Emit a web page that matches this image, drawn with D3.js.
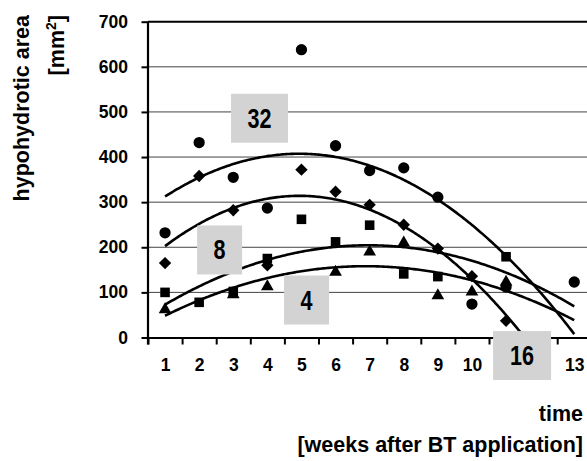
<!DOCTYPE html>
<html>
<head>
<meta charset="utf-8">
<script src="https://cdn.jsdelivr.net/npm/d3@7"></script>
<style>
  body { margin: 0; background: #fff; }
  svg text { font-family: "Liberation Sans", Arial, sans-serif; font-weight: bold; fill: #000; }
  .axis path, .axis line { stroke: #000; }
</style>
</head>
<body>
<svg id="chart" width="587" height="461"></svg>
<script>
// values (null = no point visible)
const weeks = [1, 2, 3, 4, 5, 6, 7, 8, 9, 10, 11, 12, 13]
const circleVals   = [232, 432, 355, 287, 638, 425, 370, 376, 311, 74, 112, null, 123]
const diamondVals  = [165, 358, 282, 160, 372, 323, 294, 250, 197, 136, 37, null, null]
const squareVals   = [100, 78, 102, 175, 262, 212, 249, 141, 135, null, 179, null, null]
const triangleVals = [62, null, 95, 113, null, 145, 190, 210, 93, 101, 123, null, null]
const yTicks = [0, 100, 200, 300, 400, 500, 600, 700]
// week labels 11 and 12 sit under the "16" box in the original, so they are not shown
const shownWeekLabels = [1, 2, 3, 4, 5, 6, 7, 8, 9, 10, 13]
const boxLabels = ["32", "8", "4", "16"]
// where the grey labels sit, in week / area units
const boxAt = [[3.77, 486], [2.60, 194], [5.15, 83], [11.47, -40]]
const boxW = [57, 45, 45, 58]

let svg = d3.select("#chart")
let plotLeft = 148, plotBottom = 337.5, plotTop = 21.7, band = 34.1

let x = d3.scaleLinear().domain([0.5, 13.5]).range([plotLeft, plotLeft + 13 * band])
let y = d3.scaleLinear().domain([0, 700]).range([plotBottom, plotTop])

// least squares 2nd order polynomial, like the spreadsheet trendline
function quadFit(xs, ys) {
    let S = [0, 0, 0, 0, 0], T = [0, 0, 0]
    xs.forEach((xv, i) => {
        for (let k = 0; k < 5; k++) S[k] += Math.pow(xv, k)
        for (let k = 0; k < 3; k++) T[k] += Math.pow(xv, k) * ys[i]
    })
    let M = [[S[0], S[1], S[2]], [S[1], S[2], S[3]], [S[2], S[3], S[4]]]
    let det = m => m[0][0]*(m[1][1]*m[2][2]-m[1][2]*m[2][1])
                 - m[0][1]*(m[1][0]*m[2][2]-m[1][2]*m[2][0])
                 + m[0][2]*(m[1][0]*m[2][1]-m[1][1]*m[2][0])
    let D = det(M)
    let coef = [0, 1, 2].map(c => det(M.map((row, r) => row.map((v, j) => j == c ? T[r] : v))) / D)
    return t => coef[0] + coef[1] * t + coef[2] * t * t
}

// gridlines
svg.append("g").selectAll("line")
    .data(yTicks.filter(d => d > 0))
    .enter().append("line")
    .attr("x1", plotLeft).attr("x2", 587)
    .attr("y1", d => y(d)).attr("y2", d => y(d))
    .attr("stroke", d => d == 700 ? "#000" : "#444")
    .attr("stroke-width", d => d == 700 ? 2 : 1)

// y axis
let yAxis = svg.append("g").attr("class", "axis")
    .attr("transform", `translate(${plotLeft},0)`)
    .call(d3.axisLeft(y).tickValues(yTicks).tickSize(6.5).tickPadding(13.5))
yAxis.select(".domain").remove()
yAxis.selectAll("text").style("font-size", "17.5px")
yAxis.selectAll("line").attr("stroke-width", 2)
svg.append("line").attr("x1", plotLeft).attr("x2", plotLeft).attr("y1", plotTop).attr("y2", plotBottom + 7)
    .attr("stroke", "#000").attr("stroke-width", 2.2)

// x axis: ticks between weeks, labels on the weeks
let xTicksAxis = svg.append("g").attr("class", "axis")
    .attr("transform", `translate(0,${plotBottom})`)
    .call(d3.axisBottom(x).tickValues(d3.range(0.5, 14, 1)).tickSize(7).tickSizeOuter(0).tickFormat(""))
xTicksAxis.select(".domain").attr("stroke-width", 2.2)
xTicksAxis.selectAll("line").attr("stroke-width", 2)

let xLabels = svg.append("g")
    .attr("transform", `translate(0,${plotBottom})`)
    .call(d3.axisBottom(x).tickValues(shownWeekLabels).tickSize(0).tickPadding(21).tickFormat(d3.format("d")))
xLabels.select(".domain").remove()
xLabels.selectAll("text").style("font-size", "17.5px")

// trendlines
svg.append("clipPath").attr("id", "plotclip")
    .append("rect").attr("x", plotLeft).attr("y", plotTop - 2).attr("width", 13 * band).attr("height", plotBottom - plotTop + 2)

let series = [
    { vals: circleVals, shape: "circle" },
    { vals: diamondVals, shape: "diamond" },
    { vals: squareVals, shape: "square" },
    { vals: triangleVals, shape: "triangle" }
]
let curveX = d3.range(1, 13.001, 0.05)
let line = d3.line().x(d => x(d[0])).y(d => y(d[1]))

series.forEach(s => {
    let pts = weeks.map((w, i) => [w, s.vals[i]]).filter(p => p[1] != null)
    let f = quadFit(pts.map(p => p[0]), pts.map(p => p[1]))
    svg.append("path")
        .attr("clip-path", "url(#plotclip)")
        .attr("d", line(curveX.map(t => [t, f(t)])))
        .attr("fill", "none")
        .attr("stroke", "#000")
        .attr("stroke-width", 2.6)
    s.pts = pts
})

// markers
let symbols = {
    circle: d3.symbol().type(d3.symbolCircle).size(100),
    diamond: d3.symbol().type(d3.symbolSquare).size(76),
    square: d3.symbol().type(d3.symbolSquare).size(92),
    triangle: d3.symbol().type(d3.symbolTriangle).size(70)
}
series.forEach(s => {
    svg.append("g").selectAll("path")
        .data(s.pts)
        .enter().append("path")
        .attr("d", symbols[s.shape])
        .attr("transform", d => `translate(${x(d[0])},${y(d[1])})` + (s.shape == "diamond" ? " rotate(45)" : ""))
        .attr("fill", "#000")
})

// grey number boxes
boxLabels.forEach((lab, i) => {
    let cx = x(boxAt[i][0]), cy = y(boxAt[i][1])
    let g = svg.append("g").attr("transform", `translate(${cx},${cy})`)
    g.append("rect").attr("x", -boxW[i] / 2).attr("y", -24.5).attr("width", boxW[i]).attr("height", 49)
        .attr("fill", "#d3d3d3")
    g.append("text").attr("transform", "scale(0.8,1)")
        .attr("text-anchor", "middle").attr("y", 9.5)
        .style("font-size", "27px")
        .text(lab)
})

// axis titles
svg.append("text")
    .attr("transform", "translate(28.5,15) rotate(-90)")
    .attr("text-anchor", "end")
    .style("font-size", "21.5px")
    .text("hypohydrotic area")
let unit = svg.append("text")
    .attr("transform", "translate(64,15) rotate(-90)")
    .attr("text-anchor", "end")
    .style("font-size", "21.5px")
unit.append("tspan").text("[mm")
unit.append("tspan").attr("dy", -8).style("font-size", "14px").text("2")
unit.append("tspan").attr("dy", 8).text("]")

svg.append("text").attr("x", 583).attr("y", 421)
    .attr("text-anchor", "end").style("font-size", "21.5px").text("time")
svg.append("text").attr("x", 583).attr("y", 452)
    .attr("text-anchor", "end").style("font-size", "21.5px").text("[weeks after BT application]")
</script>
</body>
</html>
